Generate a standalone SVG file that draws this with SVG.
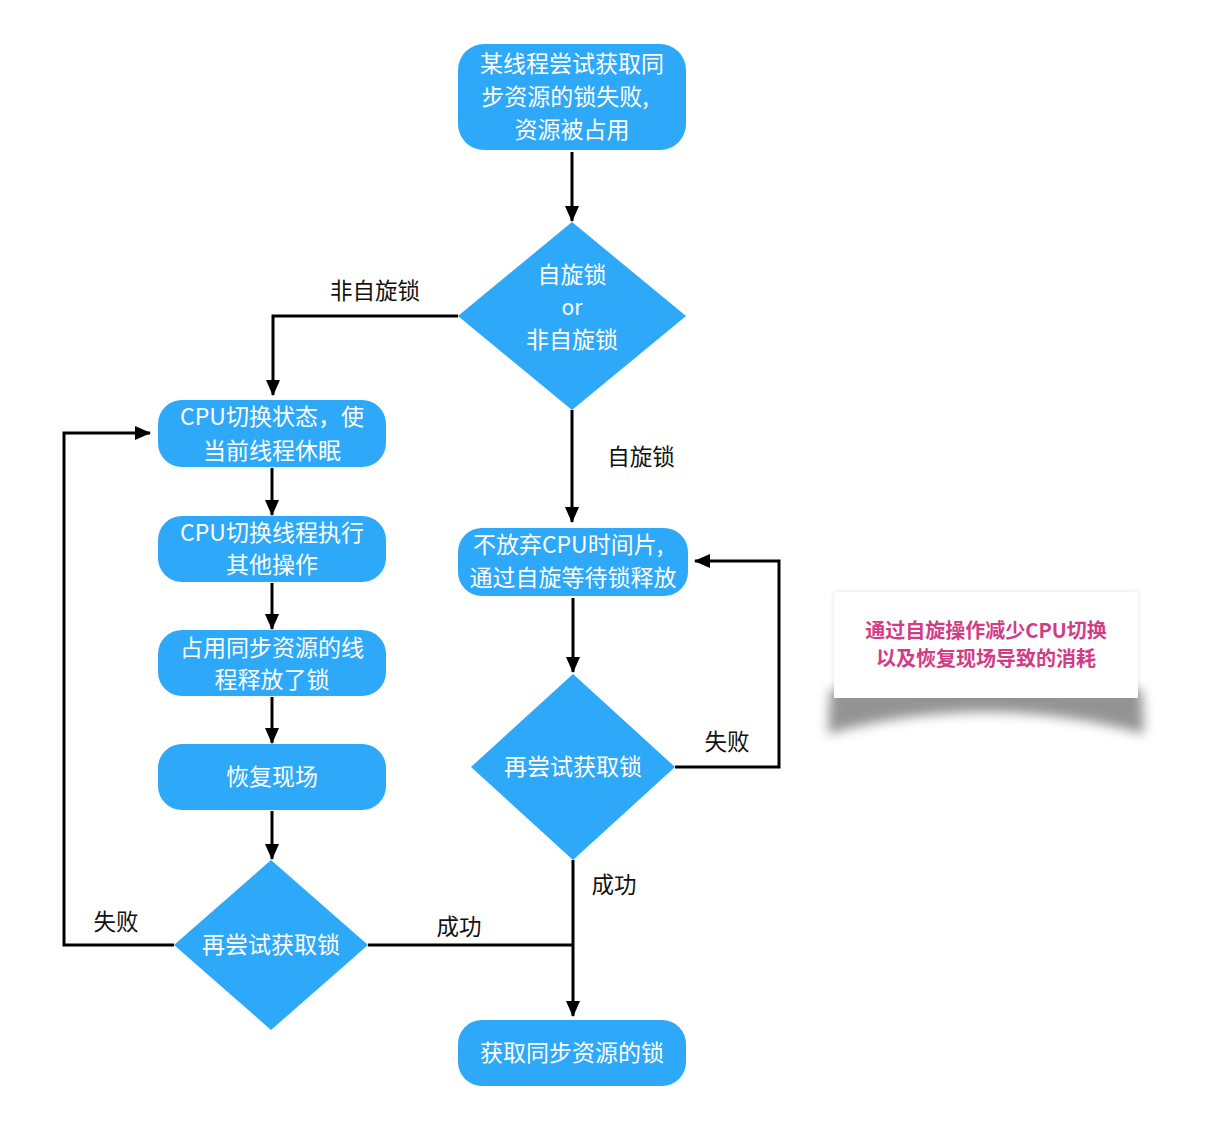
<svg xmlns="http://www.w3.org/2000/svg" width="1220" height="1126" viewBox="0 0 1220 1126">
<defs>
<style>
.node{fill:#2ea8f8;}
.nt{font-family:"Noto Sans CJK SC","Noto Sans",sans-serif;font-size:23px;fill:#ffffff;text-anchor:middle;dominant-baseline:central;}
.lb{font-family:"Noto Sans CJK SC","Noto Sans",sans-serif;font-size:22.5px;fill:#111111;text-anchor:middle;dominant-baseline:central;}
.edge{fill:none;stroke:#000000;stroke-width:3;}
.note{font-family:"Noto Sans CJK SC","Liberation Sans",sans-serif;font-size:20px;font-weight:bold;fill:#d23c86;text-anchor:middle;dominant-baseline:central;}
</style>
<marker id="ah" viewBox="0 0 16 14" refX="15" refY="7" markerWidth="16" markerHeight="14" markerUnits="userSpaceOnUse" orient="auto">
<path d="M0,0 L16,7 L0,14 Z" fill="#000000"/>
</marker>
<filter id="blur" x="-20%" y="-50%" width="140%" height="200%">
<feGaussianBlur stdDeviation="6"/>
</filter>
<filter id="blur2" x="-10%" y="-20%" width="120%" height="140%">
<feGaussianBlur stdDeviation="2"/>
</filter>
</defs>
<rect width="1220" height="1126" fill="#ffffff"/>

<g id="connectors">
<path class="edge" d="M572,152 L572,221" marker-end="url(#ah)"/>
<path class="edge" d="M458,316 L273,316 L273,395" marker-end="url(#ah)"/>
<path class="edge" d="M572,410 L572,522" marker-end="url(#ah)"/>
<path class="edge" d="M272,468 L272,515" marker-end="url(#ah)"/>
<path class="edge" d="M272,583 L272,629" marker-end="url(#ah)"/>
<path class="edge" d="M272,697 L272,743" marker-end="url(#ah)"/>
<path class="edge" d="M272,811 L272,859" marker-end="url(#ah)"/>
<path class="edge" d="M174,945 L64,945 L64,433 L150,433" marker-end="url(#ah)"/>
<path class="edge" d="M368,945 L573,945"/>
<path class="edge" d="M573,598 L573,672" marker-end="url(#ah)"/>
<path class="edge" d="M675,767 L779,767 L779,561 L695,561" marker-end="url(#ah)"/>
<path class="edge" d="M573,860 L573,1016" marker-end="url(#ah)"/>
<text class="lb" x="375" y="289">非自旋锁</text>
<text class="lb" x="641" y="455">自旋锁</text>
<text class="lb" x="727" y="740">失败</text>
<text class="lb" x="614" y="883">成功</text>
<text class="lb" x="459" y="925">成功</text>
<text class="lb" x="116" y="920">失败</text>
</g>

<g id="n_start">
<rect class="node" x="458" y="44" width="228" height="106" rx="26"/>
<text class="nt" x="572" y="62">某线程尝试获取同</text>
<text class="nt" x="565" y="95">步资源的锁失败,</text>
<text class="nt" x="572" y="128">资源被占用</text>
</g>

<g id="n_decide">
<polygon class="node" points="572,222 686,316 572,410 458,316"/>
<text class="nt" x="572" y="273">自旋锁</text>
<text class="nt" x="572" y="306" style="font-size:21px">or</text>
<text class="nt" x="572" y="338">非自旋锁</text>
</g>

<g id="n_sleep">
<rect class="node" x="158" y="400" width="228" height="67" rx="24"/>
<text class="nt" x="272" y="415">CPU切换状态，使</text>
<text class="nt" x="272" y="449">当前线程休眠</text>
</g>

<g id="n_other">
<rect class="node" x="158" y="516" width="228" height="66" rx="24"/>
<text class="nt" x="272" y="531">CPU切换线程执行</text>
<text class="nt" x="272" y="563">其他操作</text>
</g>

<g id="n_release">
<rect class="node" x="158" y="630" width="228" height="66" rx="24"/>
<text class="nt" x="272" y="646">占用同步资源的线</text>
<text class="nt" x="272" y="678">程释放了锁</text>
</g>

<g id="n_restore">
<rect class="node" x="158" y="744" width="228" height="66" rx="24"/>
<text class="nt" x="272" y="775">恢复现场</text>
</g>

<g id="n_retry_left">
<polygon class="node" points="271,860 368,945 271,1030 174,945"/>
<text class="nt" x="271" y="943">再尝试获取锁</text>
</g>

<g id="n_spin">
<rect class="node" x="458" y="528" width="230" height="68" rx="24"/>
<text class="nt" x="568" y="543">不放弃CPU时间片,</text>
<text class="nt" x="573" y="576">通过自旋等待锁释放</text>
</g>

<g id="n_retry_right">
<polygon class="node" points="573,674 675,767 573,860 471,767"/>
<text class="nt" x="573" y="765">再尝试获取锁</text>
</g>

<g id="n_acquired">
<rect class="node" x="458" y="1020" width="228" height="66" rx="24"/>
<text class="nt" x="572" y="1051">获取同步资源的锁</text>
</g>

<g id="n_note">
<path d="M830,690 L1142,690 L1144,734 Q986,690 828,734 Z" fill="#666666" opacity="0.7" filter="url(#blur)"/>
<rect x="834" y="592" width="304" height="106" fill="#000000" opacity="0.12" filter="url(#blur2)"/>
<rect x="834" y="592" width="304" height="106" fill="#ffffff"/>
<text class="note" x="986" y="629">通过自旋操作减少CPU切换</text>
<text class="note" x="986" y="657">以及恢复现场导致的消耗</text>
</g>
</svg>
